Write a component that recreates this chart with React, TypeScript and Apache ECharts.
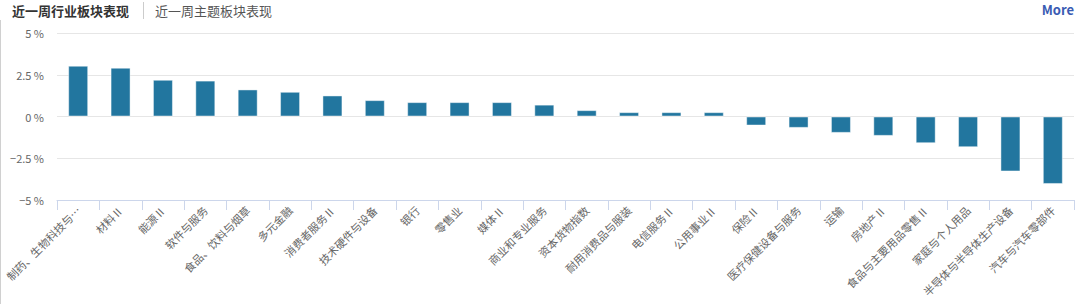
import React, { useEffect, useRef } from "react";
import * as echarts from "echarts";

const categories = [
  "制药、生物科技与…",
  "材料Ⅱ",
  "能源Ⅱ",
  "软件与服务",
  "食品、饮料与烟草",
  "多元金融",
  "消费者服务Ⅱ",
  "技术硬件与设备",
  "银行",
  "零售业",
  "媒体Ⅱ",
  "商业和专业服务",
  "资本货物指数",
  "耐用消费品与服装",
  "电信服务Ⅱ",
  "公用事业Ⅱ",
  "保险Ⅱ",
  "医疗保健设备与服务",
  "运输",
  "房地产Ⅱ",
  "食品与主要用品零售Ⅱ",
  "家庭与个人用品",
  "半导体与半导体生产设备",
  "汽车与汽车零部件",
];

const weeklyChange = [
  3.04, 2.92, 2.2, 2.15, 1.62, 1.48, 1.26, 0.98, 0.86, 0.86, 0.86, 0.71,
  0.38, 0.26, 0.26, 0.26, -0.54, -0.68, -0.98, -1.16, -1.6, -1.84, -3.29, -4.04,
];

const tabLabels = ["近一周行业板块表现", "近一周主题板块表现"];
const moreLabel = "More";

const FONT = '"Noto Sans CJK SC", "Noto Sans", sans-serif';

export default function App() {
  const ref = useRef<HTMLDivElement>(null);

  useEffect(() => {
    if (!ref.current) return;
    const chart = echarts.init(ref.current, undefined, { renderer: "svg" });
    chart.setOption({
      animation: false,
      backgroundColor: "#ffffff",
      textStyle: { fontFamily: FONT },
      graphic: [
        {
          type: "line",
          shape: { x1: 0.5, y1: 20, x2: 0.5, y2: 304 },
          style: { stroke: "#d0d0d0", lineWidth: 1 },
        },
        {
          type: "text",
          x: 12,
          y: 10,
          style: {
            text: tabLabels[0],
            fontFamily: FONT,
            fontSize: 13,
            fontWeight: "bold",
            fill: "#333333",
            textVerticalAlign: "middle",
            verticalAlign: "middle",
          },
        },
        {
          type: "line",
          shape: { x1: 143.5, y1: 2, x2: 143.5, y2: 19 },
          style: { stroke: "#cccccc", lineWidth: 1 },
        },
        {
          type: "text",
          x: 155,
          y: 10,
          style: {
            text: tabLabels[1],
            fontFamily: FONT,
            fontSize: 13,
            fill: "#555555",
            verticalAlign: "middle",
          },
        },
        {
          type: "text",
          x: 1074,
          y: 9,
          style: {
            text: moreLabel,
            fontFamily: FONT,
            fontSize: 13,
            fontWeight: "bold",
            fill: "#3a5bb3",
            align: "right",
            verticalAlign: "middle",
          },
        },
      ],
      grid: { left: 57, right: 6, top: 33, bottom: 104, containLabel: false },
      xAxis: {
        type: "category",
        data: categories,
        position: "bottom",
        axisLine: { onZero: false, lineStyle: { color: "#ccd6eb", width: 1 } },
        axisTick: { show: true, length: 10, lineStyle: { color: "#ccd6eb" } },
        axisLabel: {
          rotate: 45,
          interval: 0,
          margin: 8,
          color: "#666666",
          fontSize: 11,
          fontFamily: FONT,
        },
        splitLine: { show: false },
      },
      yAxis: {
        type: "value",
        min: -5,
        max: 5,
        interval: 2.5,
        axisLine: { show: false },
        axisTick: { show: false },
        axisLabel: {
          margin: 13,
          color: "#666666",
          fontSize: 11,
          fontFamily: FONT,
          formatter: (v: number) => `${v < 0 ? "−" + Math.abs(v) : v} %`,
        },
        splitLine: { lineStyle: { color: "#e6e6e6", width: 1 } },
      },
      series: [
        {
          type: "bar",
          data: weeklyChange,
          barWidth: 20,
          itemStyle: {
            color: "#22769f",
            borderColor: "rgba(255,255,255,0.45)",
            borderWidth: 1,
          },
        },
      ],
    });
    return () => chart.dispose();
  }, []);

  return (
    <div
      ref={ref}
      style={{ position: "fixed", left: 0, top: 0, width: 1080, height: 304 }}
    />
  );
}
